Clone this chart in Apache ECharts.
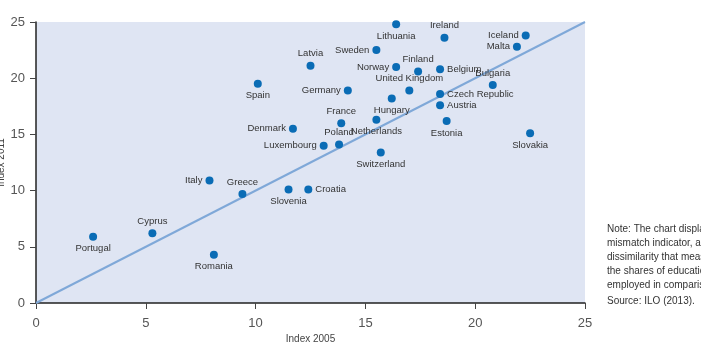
<!DOCTYPE html>
<html>
<head>
<meta charset="utf-8">
<script src="https://cdn.jsdelivr.net/npm/echarts@6/dist/echarts.min.js"></script>
<style>
  html, body { margin: 0; padding: 0; background: #fff; }
  #chart { width: 701px; height: 354px; }
</style>
</head>
<body>
<div id="chart"></div>
<script>
// data
var countries = ['Lithuania', 'Ireland', 'Sweden', 'Latvia', 'Norway', 'Finland', 'Belgium',
  'Spain', 'Germany', 'United Kingdom', 'Hungary', 'Czech Republic', 'Austria', 'France',
  'Netherlands', 'Estonia', 'Denmark', 'Luxembourg', 'Poland', 'Switzerland', 'Italy',
  'Greece', 'Slovenia', 'Croatia', 'Romania', 'Cyprus', 'Portugal', 'Iceland', 'Malta',
  'Bulgaria', 'Slovakia'];
var index2005 = [16.4, 18.6, 15.5, 12.5, 16.4, 17.4, 18.4,
  10.1, 14.2, 17.0, 16.2, 18.4, 18.4, 13.9,
  15.5, 18.7, 11.7, 13.1, 13.8, 15.7, 7.9,
  9.4, 11.5, 12.4, 8.1, 5.3, 2.6, 22.3, 21.9,
  20.8, 22.5];
var index2011 = [24.8, 23.6, 22.5, 21.1, 21.0, 20.6, 20.8,
  19.5, 18.9, 18.9, 18.2, 18.6, 17.6, 16.0,
  16.3, 16.2, 15.5, 14.0, 14.1, 13.4, 10.9,
  9.7, 10.1, 10.1, 4.3, 6.2, 5.9, 23.8, 22.8,
  19.4, 15.1];
var diagonal = [[0, 0], [25, 25]];

// where each label sits relative to its dot
var labelSide = {
  'Lithuania': 'bottom', 'Ireland': 'top', 'Sweden': 'left', 'Latvia': 'top',
  'Norway': 'left', 'Finland': 'top', 'Belgium': 'right', 'Spain': 'bottom',
  'Germany': 'left', 'United Kingdom': 'top', 'Hungary': 'bottom', 'Czech Republic': 'right',
  'Austria': 'right', 'France': 'top', 'Netherlands': 'bottom', 'Estonia': 'bottom',
  'Denmark': 'left', 'Luxembourg': 'left', 'Poland': 'top', 'Switzerland': 'bottom',
  'Italy': 'left', 'Greece': 'top', 'Slovenia': 'bottom', 'Croatia': 'right',
  'Romania': 'bottom', 'Cyprus': 'top', 'Portugal': 'bottom', 'Iceland': 'left',
  'Malta': 'left', 'Bulgaria': 'top', 'Slovakia': 'bottom'
};

var points = [];
for (var i = 0; i < countries.length; i++) {
  points.push({
    name: countries[i],
    value: [index2005[i], index2011[i]],
    label: { position: labelSide[countries[i]] || 'top' }
  });
}

var noteLines = [
  'Note: The chart displays a skill',
  'mismatch indicator, an index of',
  'dissimilarity that measures the gap between',
  'the shares of educational groups among the',
  'employed in comparison with the labour force.'
];

var chart = echarts.init(document.getElementById('chart'));
var option = {
  animation: false,
  textStyle: { fontFamily: 'Liberation Sans, Arial, sans-serif' },
  grid: {
    left: 36, top: 22, right: 116, bottom: 51,
    outerBoundsMode: 'none', containLabel: false,
    show: true, backgroundColor: '#dfe5f3', borderWidth: 0
  },
  xAxis: {
    type: 'value', min: 0, max: 25, interval: 5,
    name: 'Index 2005', nameLocation: 'middle', nameGap: 31, nameMoveOverlap: false,
    nameTextStyle: { fontSize: 10, color: '#444' },
    splitLine: { show: false },
    axisLine: { lineStyle: { color: '#222', width: 1.5 } },
    axisTick: { show: true, length: 6, lineStyle: { color: '#444' } },
    axisLabel: { fontSize: 13, color: '#555', margin: 14 }
  },
  yAxis: {
    type: 'value', min: 0, max: 25, interval: 5,
    name: 'Index 2011', nameLocation: 'middle', nameGap: 30, nameRotate: 90, nameMoveOverlap: false,
    nameTextStyle: { fontSize: 10, color: '#444' },
    splitLine: { show: false },
    axisLine: { show: true, lineStyle: { color: '#222', width: 1.5 } },
    axisTick: { show: true, length: 6, lineStyle: { color: '#444' } },
    axisLabel: { fontSize: 13, color: '#555', margin: 11 }
  },
  series: [
    {
      type: 'line',
      data: diagonal,
      symbol: 'none',
      lineStyle: { color: '#7fa8d8', width: 2 },
      silent: true,
      z: 1
    },
    {
      type: 'scatter',
      data: points,
      symbolSize: 8,
      itemStyle: { color: '#0a6cb5', opacity: 1 },
      label: {
        show: true,
        formatter: '{b}',
        fontSize: 9.5,
        color: '#333',
        distance: 3
      },
      z: 3
    }
  ],
  graphic: [
    {
      type: 'text', left: 607, top: 222,
      style: { text: noteLines.join('\n'), fontSize: 10, lineHeight: 14, fill: '#333',
        fontFamily: 'Liberation Sans, Arial, sans-serif' }
    },
    {
      type: 'text', left: 607, top: 296,
      style: { text: 'Source: ILO (2013).', fontSize: 10, fill: '#333',
        fontFamily: 'Liberation Sans, Arial, sans-serif' }
    }
  ]
};
chart.setOption(option);
</script>
</body>
</html>
